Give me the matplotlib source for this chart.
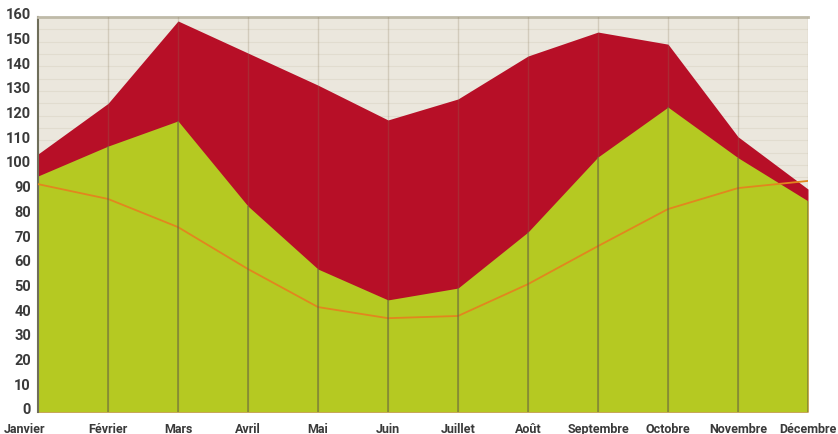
import matplotlib
matplotlib.use('Agg')
import matplotlib.pyplot as plt
import matplotlib.transforms as mtransforms
import numpy as np

plt.rcParams['font.family'] = ['Roboto', 'DejaVu Sans']

mois = ['Janvier', 'Février', 'Mars', 'Avril', 'Mai', 'Juin', 'Juillet',
        'Août', 'Septembre', 'Octobre', 'Novembre', 'Décembre']
rouge = [104.5, 125, 158.4, 145.4, 132.4, 118.3, 126.8, 144.2, 153.9, 149, 111.5, 90.3]
vert = [95.6, 107.7, 117.9, 83.4, 57.9, 45.4, 50.2, 72.9, 103.3, 123.5, 103, 85.5]
orange = [92.3, 86.3, 74.9, 57.9, 42.5, 38, 38.9, 51.8, 67.2, 82.2, 90.7, 93.6]
yticks = list(range(0, 161, 10))

x = np.arange(len(mois))

fig = plt.figure(figsize=(8.38, 4.35), dpi=100)
ax = fig.add_axes([38 / 838, 22 / 435, 770 / 838, 395 / 435])
ax.set_facecolor('#ebe7dd')

# fines lignes horizontales du fond
for v in range(5, 160, 5):
    ax.axhline(v, color='#e1dccf', lw=0.8, zorder=0)

ax.fill_between(x, 0, rouge, color='#b70f27', lw=0, zorder=1)
ax.fill_between(x, 0, vert, color='#b5c922', lw=0, zorder=2)
ax.plot(x, orange, color='#e2861e', lw=1.3, zorder=3)

# lignes verticales : discrètes sur le fond et le rouge, marquées sur le vert
for xi in x[1:]:
    ax.axvline(xi, color='#8a7a5a', lw=1.0, alpha=0.25, zorder=4)
ax.vlines(x[1:], 0, np.array(vert)[1:], color='#6b6a3a', lw=1.2, alpha=0.65, zorder=4)

ax.set_xlim(0, 11)
ax.set_ylim(0, 160)
ax.set_xticks(x)
ax.set_xticklabels(mois, fontsize=9, fontweight='bold', color='#3a3a3a')
ax.set_yticks(yticks)
ax.set_yticklabels([str(t) for t in yticks], fontsize=10.5, fontweight='bold', color='#3a3a3a')
ax.tick_params(axis='both', length=0)
ax.tick_params(axis='x', pad=7)
ax.tick_params(axis='y', pad=5)

for lab in ax.get_yticklabels():
    lab.set_transform(lab.get_transform() + mtransforms.ScaledTranslation(0, 3 / 72, fig.dpi_scale_trans))
first = ax.get_xticklabels()[0]
first.set_transform(first.get_transform() + mtransforms.ScaledTranslation(-13 / 100, 0, fig.dpi_scale_trans))

for s in ['right', 'bottom']:
    ax.spines[s].set_visible(False)
ax.spines['left'].set_color('#6f6e5a')
ax.spines['left'].set_linewidth(1.5)
ax.spines['top'].set_color('#bfbaa8')
ax.spines['top'].set_linewidth(2)

fig.savefig('out.png', dpi=100)
